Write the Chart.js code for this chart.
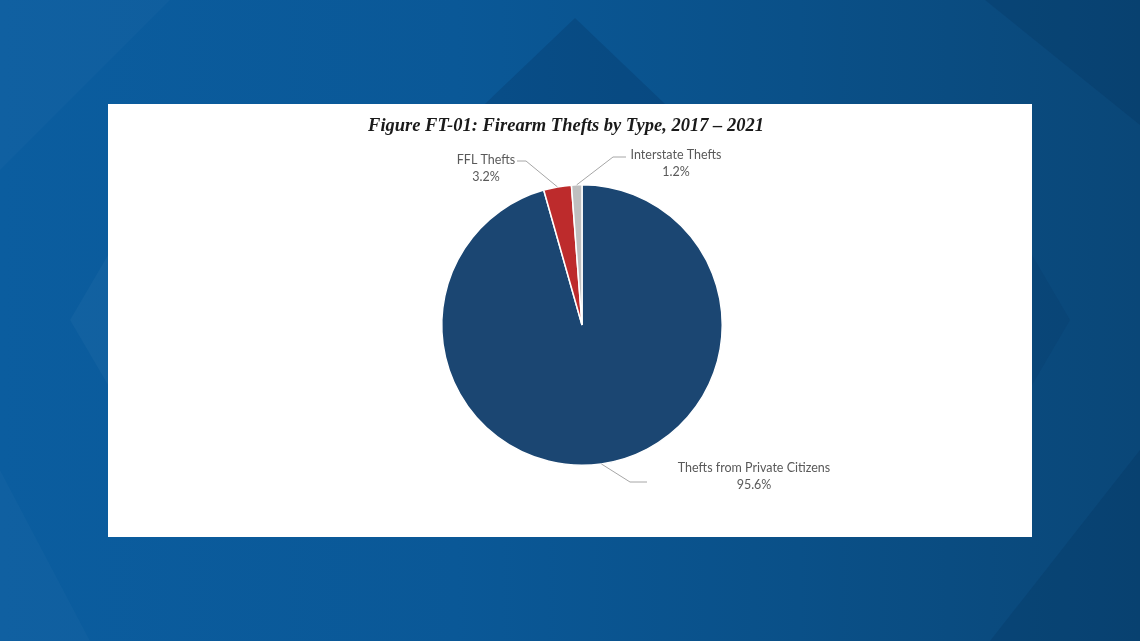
<!DOCTYPE html>
<html>
<head>
<meta charset="utf-8">
<script src="https://cdn.jsdelivr.net/npm/chart.js@4.4.1/dist/chart.umd.min.js"></script>
<style>
  html, body { margin: 0; padding: 0; }
  body {
    width: 1140px; height: 641px; overflow: hidden; position: relative;
    background: linear-gradient(90deg, #0b5d9f 0%, #0a5897 40%, #0a5088 70%, #0a4778 100%);
  }
  .shape { position: absolute; left: 0; top: 0; width: 1140px; height: 641px; }
  .s1 { background: rgba(0, 25, 60, 0.16); clip-path: polygon(575px 18px, 665px 104px, 485px 104px); }
  .s2 { background: rgba(0, 25, 60, 0.12); clip-path: polygon(985px 0, 1140px 0, 1140px 125px); }
  .s3 { background: rgba(0, 25, 60, 0.12); clip-path: polygon(1140px 450px, 1140px 641px, 990px 641px); }
  .s4 { background: rgba(255, 255, 255, 0.025); clip-path: polygon(0 0, 170px 0, 0 170px); }
  .s5 { background: rgba(255, 255, 255, 0.025); clip-path: polygon(0 470px, 90px 641px, 0 641px); }
  .s6 { background: rgba(0, 25, 60, 0.08); clip-path: polygon(1032px 255px, 1070px 320px, 1032px 385px); }
  .s7 { background: rgba(255, 255, 255, 0.03); clip-path: polygon(108px 255px, 70px 320px, 108px 385px); }
  #panel {
    position: absolute; left: 108px; top: 104px; width: 924px; height: 433px;
    background: #ffffff;
  }
  #title {
    position: absolute; left: 0; top: 10px; width: 916px; text-align: center;
    font: italic bold 18.5px "Liberation Serif", "Times New Roman", serif;
    color: #1a1a1a; line-height: 22px;
  }
  #pieChart { position: absolute; left: 0; top: 0; }
</style>
</head>
<body>
<div class="shape s1"></div>
<div class="shape s2"></div>
<div class="shape s3"></div>
<div class="shape s4"></div>
<div class="shape s5"></div>
<div class="shape s6"></div>
<div class="shape s7"></div>
<div id="panel">
  <canvas id="pieChart" width="924" height="433"></canvas>
  <div id="title">Figure FT-01: Firearm Thefts by Type, 2017 – 2021</div>
</div>
<script>
// Firearm thefts by type, 2017 - 2021 (percent)
const categories = ['Thefts from Private Citizens', 'FFL Thefts', 'Interstate Thefts'];
const shares = [95.6, 3.2, 1.2];
const sliceColors = ['#1b4672', '#bd2b2c', '#bfbfbf'];

// label placement relative to pie centre: text centre, elbow, line end
const labelLayout = [
    { tx: 172, ty: 151, ex: 48, ey: 157, lx: 65, ly: 157 },
    { tx: -96, ty: -157, ex: -56, ey: -164, lx: -65, ly: -164 },
    { tx: 94, ty: -162, ex: 31, ey: -168, lx: 44, ly: -168 }
];

const leaderLabels = {
    id: 'leaderLabels',
    afterDatasetsDraw(chart) {
        const c = chart.ctx;
        const meta = chart.getDatasetMeta(0);
        c.save();
        meta.data.forEach((arc, i) => {
            const p = arc.getProps(['x', 'y', 'startAngle', 'endAngle', 'outerRadius'], true);
            const mid = (p.startAngle + p.endAngle) / 2;
            const sx = p.x + Math.cos(mid) * p.outerRadius;
            const sy = p.y + Math.sin(mid) * p.outerRadius;
            const L = labelLayout[i];

            c.strokeStyle = '#a6a6a6';
            c.lineWidth = 1;
            c.beginPath();
            c.moveTo(sx, sy);
            c.lineTo(p.x + L.ex, p.y + L.ey);
            c.lineTo(p.x + L.lx, p.y + L.ly);
            c.stroke();

            c.fillStyle = '#595959';
            c.font = '12.5px Lato, "Open Sans", sans-serif';
            c.textAlign = 'center';
            c.textBaseline = 'middle';
            c.fillText(categories[i], p.x + L.tx, p.y + L.ty - 8);
            c.fillText(shares[i].toFixed(1) + '%', p.x + L.tx, p.y + L.ty + 9);
        });
        c.restore();
    }
};

new Chart(document.getElementById('pieChart'), {
    type: 'pie',
    data: {
        labels: categories,
        datasets: [{
            data: shares,
            backgroundColor: sliceColors,
            borderColor: '#ffffff',
            borderWidth: 1.5
        }]
    },
    options: {
        responsive: false,
        animation: false,
        layout: { padding: { left: 24, right: 0, top: 80, bottom: 71 } },
        plugins: {
            legend: { display: false },
            tooltip: { enabled: false },
            title: { display: false }
        }
    },
    plugins: [leaderLabels]
});
</script>
</body>
</html>
